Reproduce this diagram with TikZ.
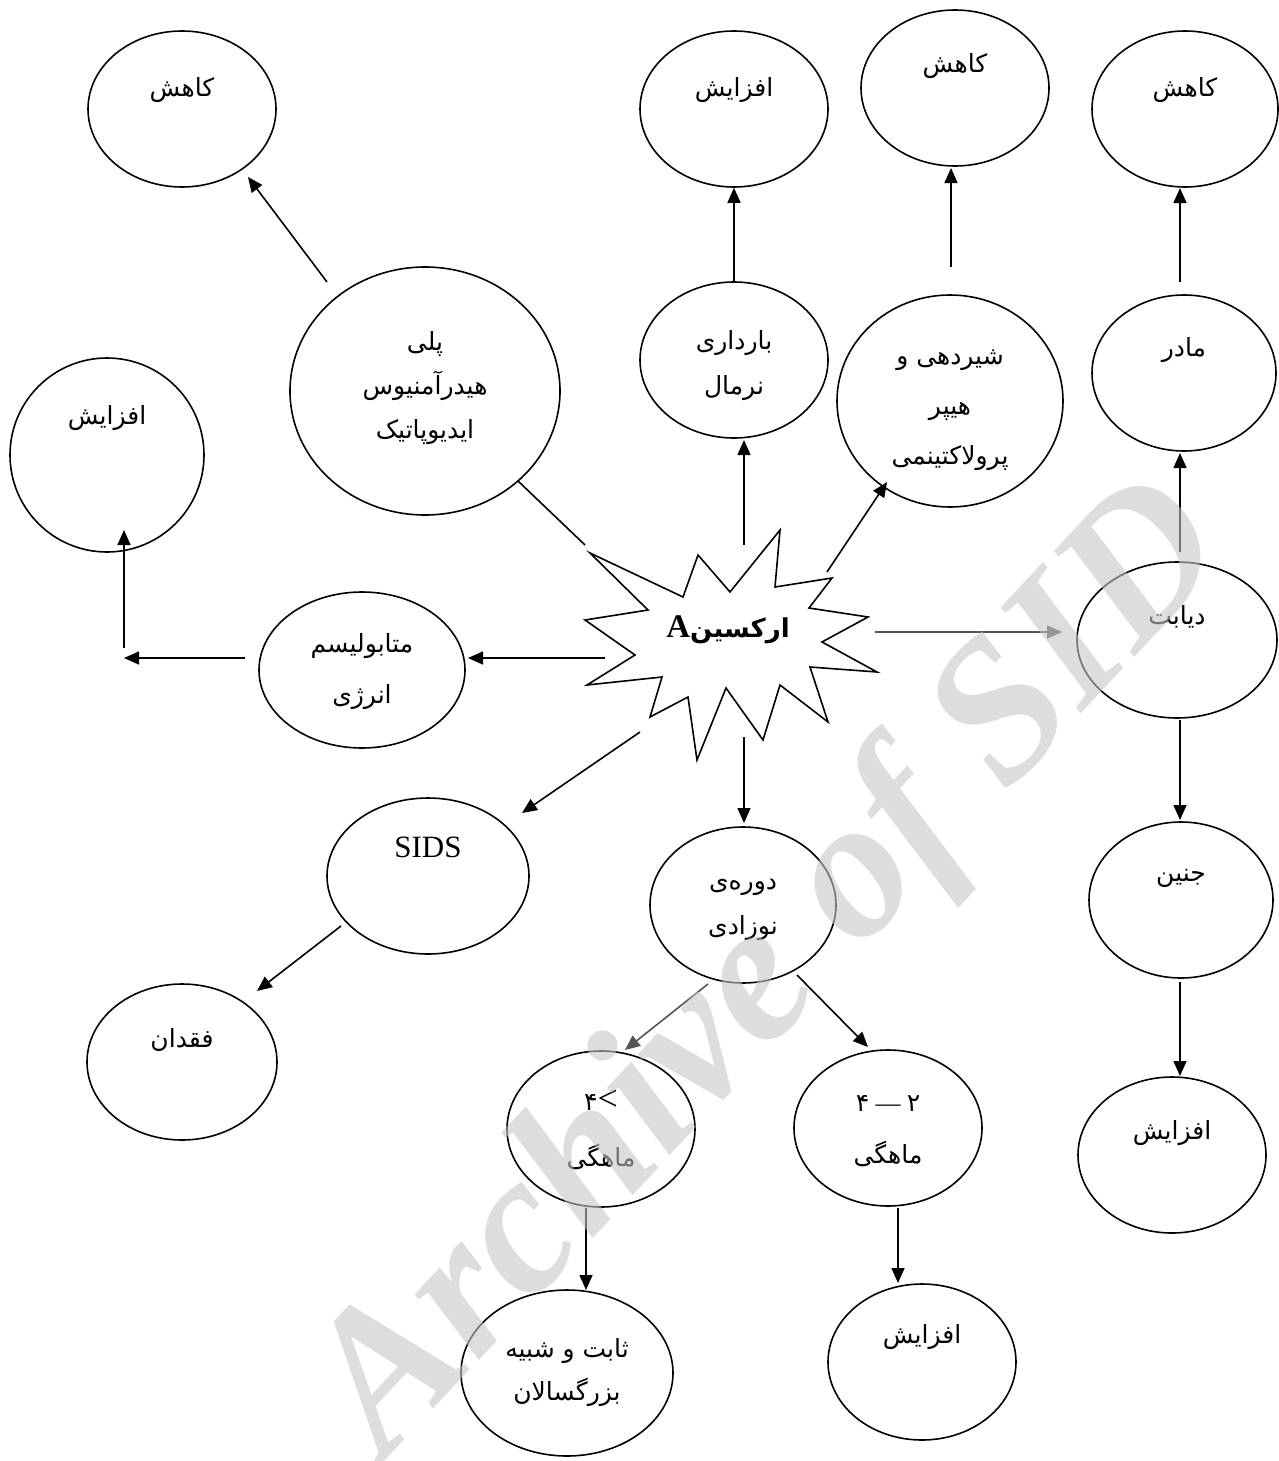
\documentclass[tikz,border=0pt]{standalone}
\usepackage{fontspec}
\setmainfont{Liberation Serif}
\newfontfamily\fa[Script=Arabic]{DejaVu Sans}
\TeXXeTstate=1
\usetikzlibrary{arrows.meta,shapes.geometric,calc}
\definecolor{wmcol}{rgb}{0.776,0.776,0.776}
\definecolor{darr}{rgb}{0.33,0.33,0.33}
\newcommand\fatx[1]{\beginR#1\endR}
\begin{document}
\begin{tikzpicture}[x=1pt,y=-1pt,
  ov/.style={draw, ellipse, line width=1.6pt, inner sep=0pt, fill=white},
  lbl/.style={font=\fa\fontsize{25}{45}\selectfont, align=center, inner sep=0pt},
  arr/.style={line width=1.6pt, -{Triangle[length=15pt,width=13pt]}},
  garr/.style={arr, draw=darr, fill=darr},
  plain/.style={line width=1.6pt}
]
\fill[white] (0,0) rectangle (1278,1461);
\useasboundingbox (0,0) rectangle (1278,1461);

% ellipses
\node[ov, minimum width=188pt, minimum height=156pt] (kahTL) at (182,109) {};
\node[ov, minimum width=188pt, minimum height=156pt] (afzT) at (734,109) {};
\node[ov, minimum width=188pt, minimum height=156pt] (kahM) at (955,88) {};
\node[ov, minimum width=186pt, minimum height=156pt] (kahR) at (1185,109) {};
\node[ov, minimum width=270pt, minimum height=248pt] (poly) at (425,391) {};
\node[ov, minimum width=194pt, minimum height=194pt] (afzL) at (107,455) {};
\node[ov, minimum width=188pt, minimum height=156pt] (bard) at (734,360) {};
\node[ov, minimum width=226pt, minimum height=212pt] (shir) at (950,401) {};
\node[ov, minimum width=184pt, minimum height=156pt] (madar) at (1184,373) {};
\node[ov, minimum width=200pt, minimum height=156pt] (dyab) at (1177,640) {};
\node[ov, minimum width=206pt, minimum height=156pt] (metab) at (362,670) {};
\node[ov, minimum width=202pt, minimum height=156pt] (sids) at (428,876) {};
\node[ov, minimum width=186pt, minimum height=156pt] (doreh) at (743,905) {};
\node[ov, minimum width=184pt, minimum height=156pt] (jenin) at (1181,900) {};
\node[ov, minimum width=190pt, minimum height=156pt] (feg) at (182,1062) {};
\node[ov, minimum width=188pt, minimum height=156pt] (lt4) at (601,1129) {};
\node[ov, minimum width=188pt, minimum height=156pt] (m42) at (888,1128) {};
\node[ov, minimum width=188pt, minimum height=156pt] (afzR) at (1172,1155) {};
\node[ov, minimum width=212pt, minimum height=166pt] (sabet) at (567,1373) {};
\node[ov, minimum width=188pt, minimum height=156pt] (afzB) at (922,1362) {};

% star
\draw[line width=1.6pt, fill=white] (780,530) -- (775,587) -- (832,578) -- (809,608) -- (868,617) -- (822,642) -- (877,672) -- (810,667) -- (828,722) -- (780,685) -- (763,740) -- (726,688) -- (697,760) -- (688,697) -- (650,717) -- (662,677) -- (587,685) -- (635,655) -- (585,620) -- (648,610) -- (590,553) -- (683,597) -- (698,555) -- (730,592) -- cycle;
\coordinate (star) at (744,635);
\coordinate (elbow) at (124,658);

% labels
\node[lbl] (kahTL-t) at (182,90) {\fatx{کاهش}};
\node[lbl] (afzT-t) at (734,90) {\fatx{افزایش}};
\node[lbl] (kahM-t) at (955,66) {\fatx{کاهش}};
\node[lbl] (kahR-t) at (1185,90) {\fatx{کاهش}};
\node[lbl, font=\fa\fontsize{25}{44}\selectfont] (poly-t) at (425,388) {\fatx{پلی}\\\fatx{هیدرآمنیوس}\\\fatx{ایدیوپاتیک}};
\node[lbl] (afzL-t) at (107,418) {\fatx{افزایش}};
\node[lbl] (bard-t) at (734,366) {\fatx{بارداری}\\\fatx{نرمال}};
\node[lbl, font=\fa\fontsize{25}{50}\selectfont] (shir-t) at (950,410) {\fatx{شیردهی و}\\\fatx{هیپر}\\\fatx{پرولاکتینمی}};
\node[lbl] (madar-t) at (1184,350) {\fatx{مادر}};
\node[lbl] (dyab-t) at (1177,617) {\fatx{دیابت}};
\node[lbl, font=\fa\fontsize{25}{51}\selectfont] (metab-t) at (362,672) {\fatx{متابولیسم}\\\fatx{انرژی}};
\node[inner sep=0pt, font=\fontsize{31}{36}\selectfont] (sids-t) at (428,847) {SIDS};
\node[lbl] (doreh-t) at (743,910) {\fatx{دوره‌ی}\\\fatx{نوزادی}};
\node[lbl] (jenin-t) at (1181,878) {\fatx{جنین}};
\node[lbl] (feg-t) at (182,1040) {\fatx{فقدان}};
\node[lbl, font=\fa\fontsize{25}{56}\selectfont] (lt4-t) at (601,1130) {\beginR\hbox{\rmfamily\fontsize{36}{36}\selectfont <}\hbox{۴}\endR\\\fatx{ماهگی}};
\node[lbl, font=\fa\fontsize{25}{52}\selectfont] (m42-t) at (888,1131) {\beginR\hbox{۲}\hbox{\rmfamily\fontsize{25}{30}\selectfont\ — }\hbox{۴}\endR\\\fatx{ماهگی}};
\node[lbl] (afzR-t) at (1172,1133) {\fatx{افزایش}};
\node[lbl, font=\fa\fontsize{25}{43}\selectfont] (sabet-t) at (567,1373) {\fatx{ثابت و شبیه}\\\fatx{بزرگسالان}};
\node[lbl] (afzB-t) at (922,1337) {\fatx{افزایش}};
\node[inner sep=0pt] (star-t) at (728,630) {\beginR{\fa\bfseries\fontsize{26}{30}\selectfont ارکسین}{\bfseries\fontsize{33}{36}\selectfont A}\endR};

% connectors
\draw[arr] ($(poly)+(-98,-109)$) -- ($(kahTL)+(66,68)$);
\draw[arr] ($(metab)+(-117,-12)$) -- (elbow);
\draw[arr] ($(elbow)+(0,-10)$) -- ($(afzL)+(17,75)$);
\draw[arr] (bard.north) -- (afzT.south);
\draw[arr] ($(star)+(0,-90)$) -- ($(bard)+(10,80)$);
\draw[arr] ($(shir)+(1,-134)$) -- ($(kahM)+(-4,80)$);
\draw[arr] ($(star)+(83,-63)$) -- ($(shir)+(-63,81)$);
\draw[arr] ($(madar)+(-4,-91)$) -- ($(kahR)+(-5,79)$);
\draw[arr] ($(dyab)+(3,-88)$) -- ($(madar)+(-4,80)$);
\draw[garr] ($(star)+(131,-3)$) -- ($(dyab)+(-115,-8)$);
\draw[arr] ($(star)+(-139,23)$) -- ($(metab)+(106,-12)$);
\draw[plain] ($(poly)+(93,90)$) -- ($(star)+(-159,-90)$);
\draw[arr] ($(star)+(-104,97)$) -- ($(sids)+(94,-63)$);
\draw[arr] ($(star)+(0,102)$) -- ($(doreh)+(1,-82)$);
\draw[arr] ($(dyab)+(3,80)$) -- ($(jenin)+(-1,-80)$);
\draw[arr] ($(jenin)+(-1,82)$) -- ($(afzR)+(8,-79)$);
\draw[arr] ($(sids)+(-87,50)$) -- ($(feg)+(75,-71)$);
\draw[garr] ($(doreh)+(-35,79)$) -- ($(lt4)+(24,-79)$);
\draw[arr] ($(doreh)+(54,70)$) -- ($(m42)+(-20,-81)$);
\draw[arr] ($(lt4)+(-15,79)$) -- ($(sabet)+(19,-83)$);
\draw[arr] ($(m42)+(10,80)$) -- ($(afzB)+(-24,-79)$);

% watermark
\node[font=\bfseries\itshape\fontsize{200}{200}\selectfont, text=wmcol, opacity=0.58, rotate=47, inner sep=0pt] (wm) at (774,972) {Archive of SID};
\end{tikzpicture}
\end{document}
